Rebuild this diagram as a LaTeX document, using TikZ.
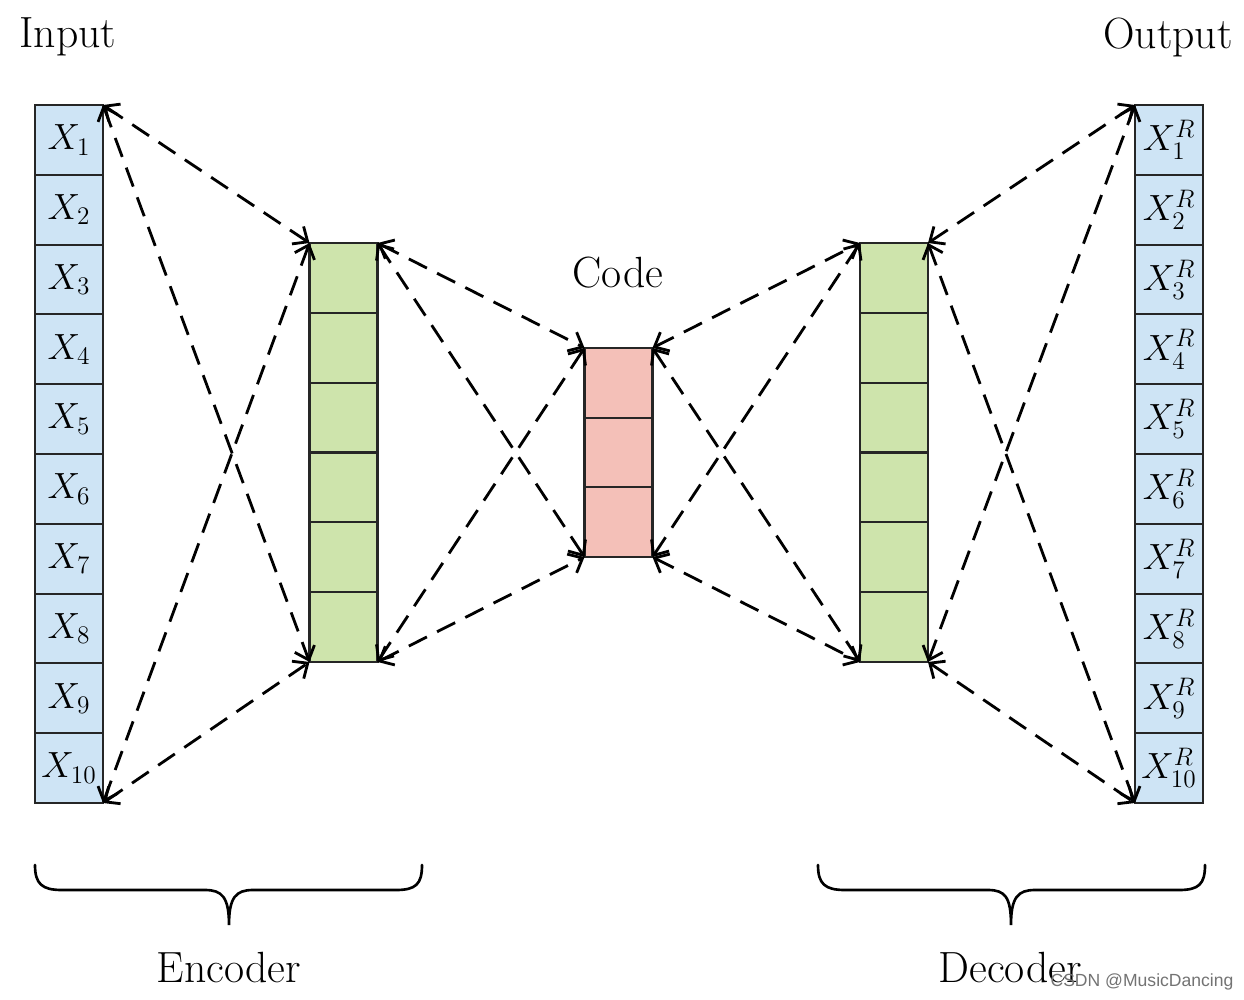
\documentclass[tikz,border=0pt]{standalone}
\usepackage{fontspec}
\newfontfamily\wmfont{Liberation Sans}
\usetikzlibrary{arrows.meta}
\definecolor{incol}{RGB}{206,228,245}
\definecolor{hidcol}{RGB}{206,228,172}
\definecolor{codcol}{RGB}{244,192,184}
\begin{document}
\begin{tikzpicture}[x=0.02cm,y=-0.02cm,
  cell/.style={rectangle, minimum width=1.36cm, minimum height=1.396cm, inner sep=0pt, outer sep=0pt, font=\huge},
  inc/.style={cell, fill=incol},
  hid/.style={cell, fill=hidcol},
  cod/.style={cell, fill=codcol},
  border/.style={draw=black!85, line width=1.2pt},
  conn/.style={line width=1.6pt, dash pattern=on 11.5pt off 6.5pt, {Straight Barb[length=2.4mm,width=4.2mm]}-{Straight Barb[length=2.4mm,width=4.2mm]}},
  title/.style={font=\Huge, inner sep=0pt},
  brace/.style={line width=1.5pt, line cap=round}
]
\useasboundingbox[fill=white] (0,0) rectangle (1244,1000);

% columns
\foreach \i in {1,...,10} {
  \node[inc] (in\i) at (69, {105+69.8*(\i-0.5)}) {$X_{\i}$};
  \node[inc] (out\i) at (1169, {105+69.8*(\i-0.5)}) {$X^{R}_{\i}$};
}
\foreach \i in {1,...,6} {
  \node[hid] (ea\i) at (343.5, {243+69.83*(\i-0.5)}) {};
  \node[hid] (da\i) at (894, {243+69.83*(\i-0.5)}) {};
}
\foreach \i in {1,...,3} {
  \node[cod] (co\i) at (618.5, {348+69.67*(\i-0.5)}) {};
}
% cell borders drawn over the fills
\foreach \i in {1,...,10} {
  \draw[border] (in\i.north west) rectangle (in\i.south east);
  \draw[border] (out\i.north west) rectangle (out\i.south east);
}
\foreach \i in {1,...,6} {
  \draw[border] (ea\i.north west) rectangle (ea\i.south east);
  \draw[border] (da\i.north west) rectangle (da\i.south east);
}
\foreach \i in {1,...,3} {
  \draw[border] (co\i.north west) rectangle (co\i.south east);
}

% titles
\node[title] (tin) at (68,37) {Input};
\node[title] (tout) at (1168,37) {Output};
\node[title] (tcode) at (618,273) {Code};
\node[title] (tenc) at (229,967) {Encoder};
\node[title] (tdec) at (1010,967) {Decoder};

% connectors
\draw[conn] (in1.north east) -- (ea1.north west);
\draw[conn] (in1.north east) -- (ea6.south west);
\draw[conn] (in10.south east) -- (ea1.north west);
\draw[conn] (in10.south east) -- (ea6.south west);

\draw[conn] (ea1.north east) -- (co1.north west);
\draw[conn] (ea1.north east) -- (co3.south west);
\draw[conn] (ea6.south east) -- (co1.north west);
\draw[conn] (ea6.south east) -- (co3.south west);

\draw[conn] (co1.north east) -- (da1.north west);
\draw[conn] (co1.north east) -- (da6.south west);
\draw[conn] (co3.south east) -- (da1.north west);
\draw[conn] (co3.south east) -- (da6.south west);

\draw[conn] (da1.north east) -- (out1.north west);
\draw[conn] (da1.north east) -- (out10.south west);
\draw[conn] (da6.south east) -- (out1.north west);
\draw[conn] (da6.south east) -- (out10.south west);

% braces
\draw[brace] (35,865) .. controls (35,884) and (42,890) .. (62,890) -- (205,890)
  .. controls (222,890) and (229,897) .. (229,925)
  .. controls (229,897) and (236,890) .. (253,890) -- (396,890)
  .. controls (416,890) and (422,884) .. (422,865);
\draw[brace] (818,865) .. controls (818,884) and (825,890) .. (845,890) -- (988,890)
  .. controls (1005,890) and (1011,897) .. (1011,925)
  .. controls (1011,897) and (1018,890) .. (1035,890) -- (1179,890)
  .. controls (1199,890) and (1205,884) .. (1205,865);

% watermark
\node[font=\wmfont\fontsize{10}{12}\selectfont, text=black!55, inner sep=0pt] (wm) at (1142,982) {CSDN @MusicDancing};
\end{tikzpicture}
\end{document}
